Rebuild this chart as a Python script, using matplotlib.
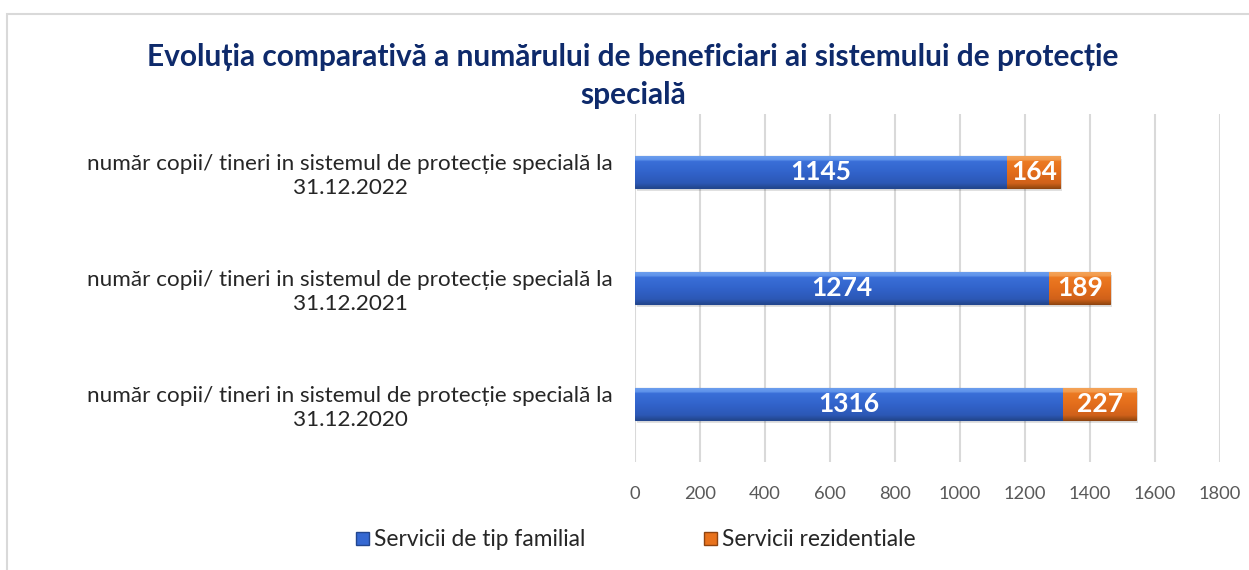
import matplotlib.pyplot as plt
import matplotlib.patches as mpatches
from matplotlib.colors import LinearSegmentedColormap
import numpy as np

plt.rcParams['font.family'] = ['Lato', 'DejaVu Sans']

categories = [
    "număr copii/ tineri in sistemul de protecție specială la\n31.12.2020",
    "număr copii/ tineri in sistemul de protecție specială la\n31.12.2021",
    "număr copii/ tineri in sistemul de protecție specială la\n31.12.2022",
]
familial = [1316, 1274, 1145]
rezidential = [227, 189, 164]
series_names = ["Servicii de tip familial", "Servicii rezidentiale"]
x_ticks = [0, 200, 400, 600, 800, 1000, 1200, 1400, 1600, 1800]

blue = "#3568D2"
blue_edge = "#22468F"
orange = "#E8721C"
orange_edge = "#8F4410"

# bevel-like vertical gradients (bottom -> top)
blue_grad = LinearSegmentedColormap.from_list(
    "bg", [(0, "#23478F"), (0.14, "#2C58B5"), (0.5, "#3264CC"), (0.82, "#3A6FD8"),
           (0.86, "#5E92EA"), (1, "#6FA0EE")])
orange_grad = LinearSegmentedColormap.from_list(
    "og", [(0, "#9A4A10"), (0.14, "#D0611A"), (0.5, "#E46E1C"), (0.82, "#EC7A22"),
           (0.86, "#F29A4C"), (1, "#F4A65C")])

fig = plt.figure(figsize=(12.49, 5.70), dpi=100)
ax = fig.add_axes([635 / 1249, 108 / 570, 585 / 1249, 348 / 570])

# chart border
fig.patches.append(mpatches.Rectangle((7 / 1249, -0.1), 1.2, 1 - 14 / 570 + 0.1,
                                      transform=fig.transFigure, fill=False,
                                      edgecolor="#d9d9d9", linewidth=1.5))

y = np.arange(len(categories))
h = 0.28
b1 = ax.barh(y, familial, height=h, color=blue, edgecolor=blue_edge, linewidth=0.8, zorder=3)
b2 = ax.barh(y, rezidential, left=familial, height=h, color=orange, edgecolor=orange_edge,
             linewidth=0.8, zorder=3)

# soft shadow under the stacked bars
tot = [a + b for a, b in zip(familial, rezidential)]
ax.barh(y - 0.025, tot, left=6, height=h, color="#000000", alpha=0.12, linewidth=0, zorder=2)

grad = np.linspace(0, 1, 64).reshape(-1, 1)
for bars, cmap in ((b1, blue_grad), (b2, orange_grad)):
    for p in bars:
        x0, y0 = p.get_x(), p.get_y()
        w, hh = p.get_width(), p.get_height()
        im = ax.imshow(grad, cmap=cmap, aspect="auto", origin="lower",
                       extent=(x0, x0 + w, y0, y0 + hh), zorder=3.5)
        im.set_clip_path(p)

for i in range(len(y)):
    ax.text(familial[i] / 2, y[i], str(familial[i]), ha="center", va="center", color="white",
            fontsize=19, fontweight="bold", zorder=5)
    ax.text(familial[i] + rezidential[i] / 2, y[i], str(rezidential[i]), ha="center", va="center",
            color="white", fontsize=19, fontweight="bold", zorder=5)

ax.set_xlim(0, 1800)
ax.set_ylim(-0.5, 2.5)
ax.set_xticks(x_ticks)
ax.set_xticklabels([str(t) for t in x_ticks])
ax.set_yticks(y)
ax.set_yticklabels(categories, ha="center", fontsize=16.2, color="#262626", linespacing=1.25)
ax.tick_params(axis="y", length=0, pad=205)
ax.tick_params(axis="x", length=0, pad=17, labelsize=13.2, labelcolor="#595959")
ax.grid(axis="x", color="#d9d9d9", linewidth=1.5, zorder=0)
for s in ax.spines.values():
    s.set_visible(False)

fig.text(633 / 1249, 1 - 76 / 570,
         "Evoluția comparativă a numărului de beneficiari ai sistemului de protecție\nspecială",
         ha="center", va="center", fontsize=21.5, fontweight="bold", color="#0E2A6B", linespacing=1.42)

handles = [mpatches.Patch(facecolor=blue, edgecolor=blue_edge, label=series_names[0]),
           mpatches.Patch(facecolor=orange, edgecolor=orange_edge, label=series_names[1])]
fig.legend(handles=handles, loc="center", bbox_to_anchor=(636 / 1249, 1 - 540 / 570), ncol=2,
           frameon=False, fontsize=16.4, handlelength=0.55, handleheight=0.55, handletextpad=0.25,
           columnspacing=5.2, labelcolor="#262626")

fig.savefig("out.png", dpi=100)
